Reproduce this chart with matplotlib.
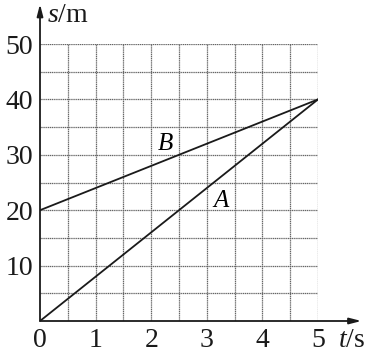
import matplotlib
matplotlib.use("Agg")
import matplotlib.pyplot as plt
import numpy as np

# data
t_pts = [0, 5]
s_A = [0, 40]
s_B = [20, 40]
xticks = [0, 1, 2, 3, 4, 5]
yticks = [10, 20, 30, 40, 50]

plt.rcParams['font.family'] = ['Liberation Serif', 'DejaVu Serif']
plt.rcParams['mathtext.fontset'] = 'custom'
plt.rcParams['mathtext.rm'] = 'Liberation Serif'
plt.rcParams['mathtext.it'] = 'Liberation Serif:italic'

fig = plt.figure(figsize=(3.68, 3.52), dpi=100)
ax = fig.add_axes([40 / 368, 31 / 352, 278 / 368, 277 / 352])
ax.set_xlim(0, 5)
ax.set_ylim(0, 50)

# grid (every 0.5 s and 5 m)
for gx in np.arange(0.5, 5.01, 0.5):
    ax.axvline(gx, color='0.4', lw=0.9, ls=(0, (1, 0.5)), zorder=1)
for gy in np.arange(5, 50.1, 5):
    ax.axhline(gy, color='0.4', lw=0.9, ls=(0, (1, 0.5)), zorder=1)

ax.plot(t_pts, s_A, color='0.1', lw=1.3, zorder=3)
ax.plot(t_pts, s_B, color='0.1', lw=1.3, zorder=3)
ax.text(2.25, 31.9, 'B', fontsize=18, style='italic', ha='center', va='center')
ax.text(3.25, 21.6, 'A', fontsize=18, style='italic', ha='center', va='center')

for sp in ax.spines.values():
    sp.set_visible(False)

arrow = dict(arrowstyle='-|>,head_length=0.7,head_width=0.18', lw=1.3, color='0.1',
             shrinkA=0, shrinkB=0)
ax.annotate('', xy=(5.78, 0), xytext=(0, 0), arrowprops=arrow, annotation_clip=False)
ax.annotate('', xy=(0, 57.2), xytext=(0, 0), arrowprops=arrow, annotation_clip=False)

ax.set_xticks(xticks)
ax.set_yticks(yticks)
ax.tick_params(length=0, labelsize=20, colors='0.1')
ax.tick_params(axis='x', pad=5)
ax.tick_params(axis='y', pad=5)

ax.text(0.13, 55.2, r'$\mathit{s}$/m', fontsize=20, color='0.1', ha='left', va='center')
ax.text(5.36, -3.6, r'$\mathit{t}$/s', fontsize=20, color='0.1', ha='left', va='center')

fig.savefig('out.png', dpi=100)
